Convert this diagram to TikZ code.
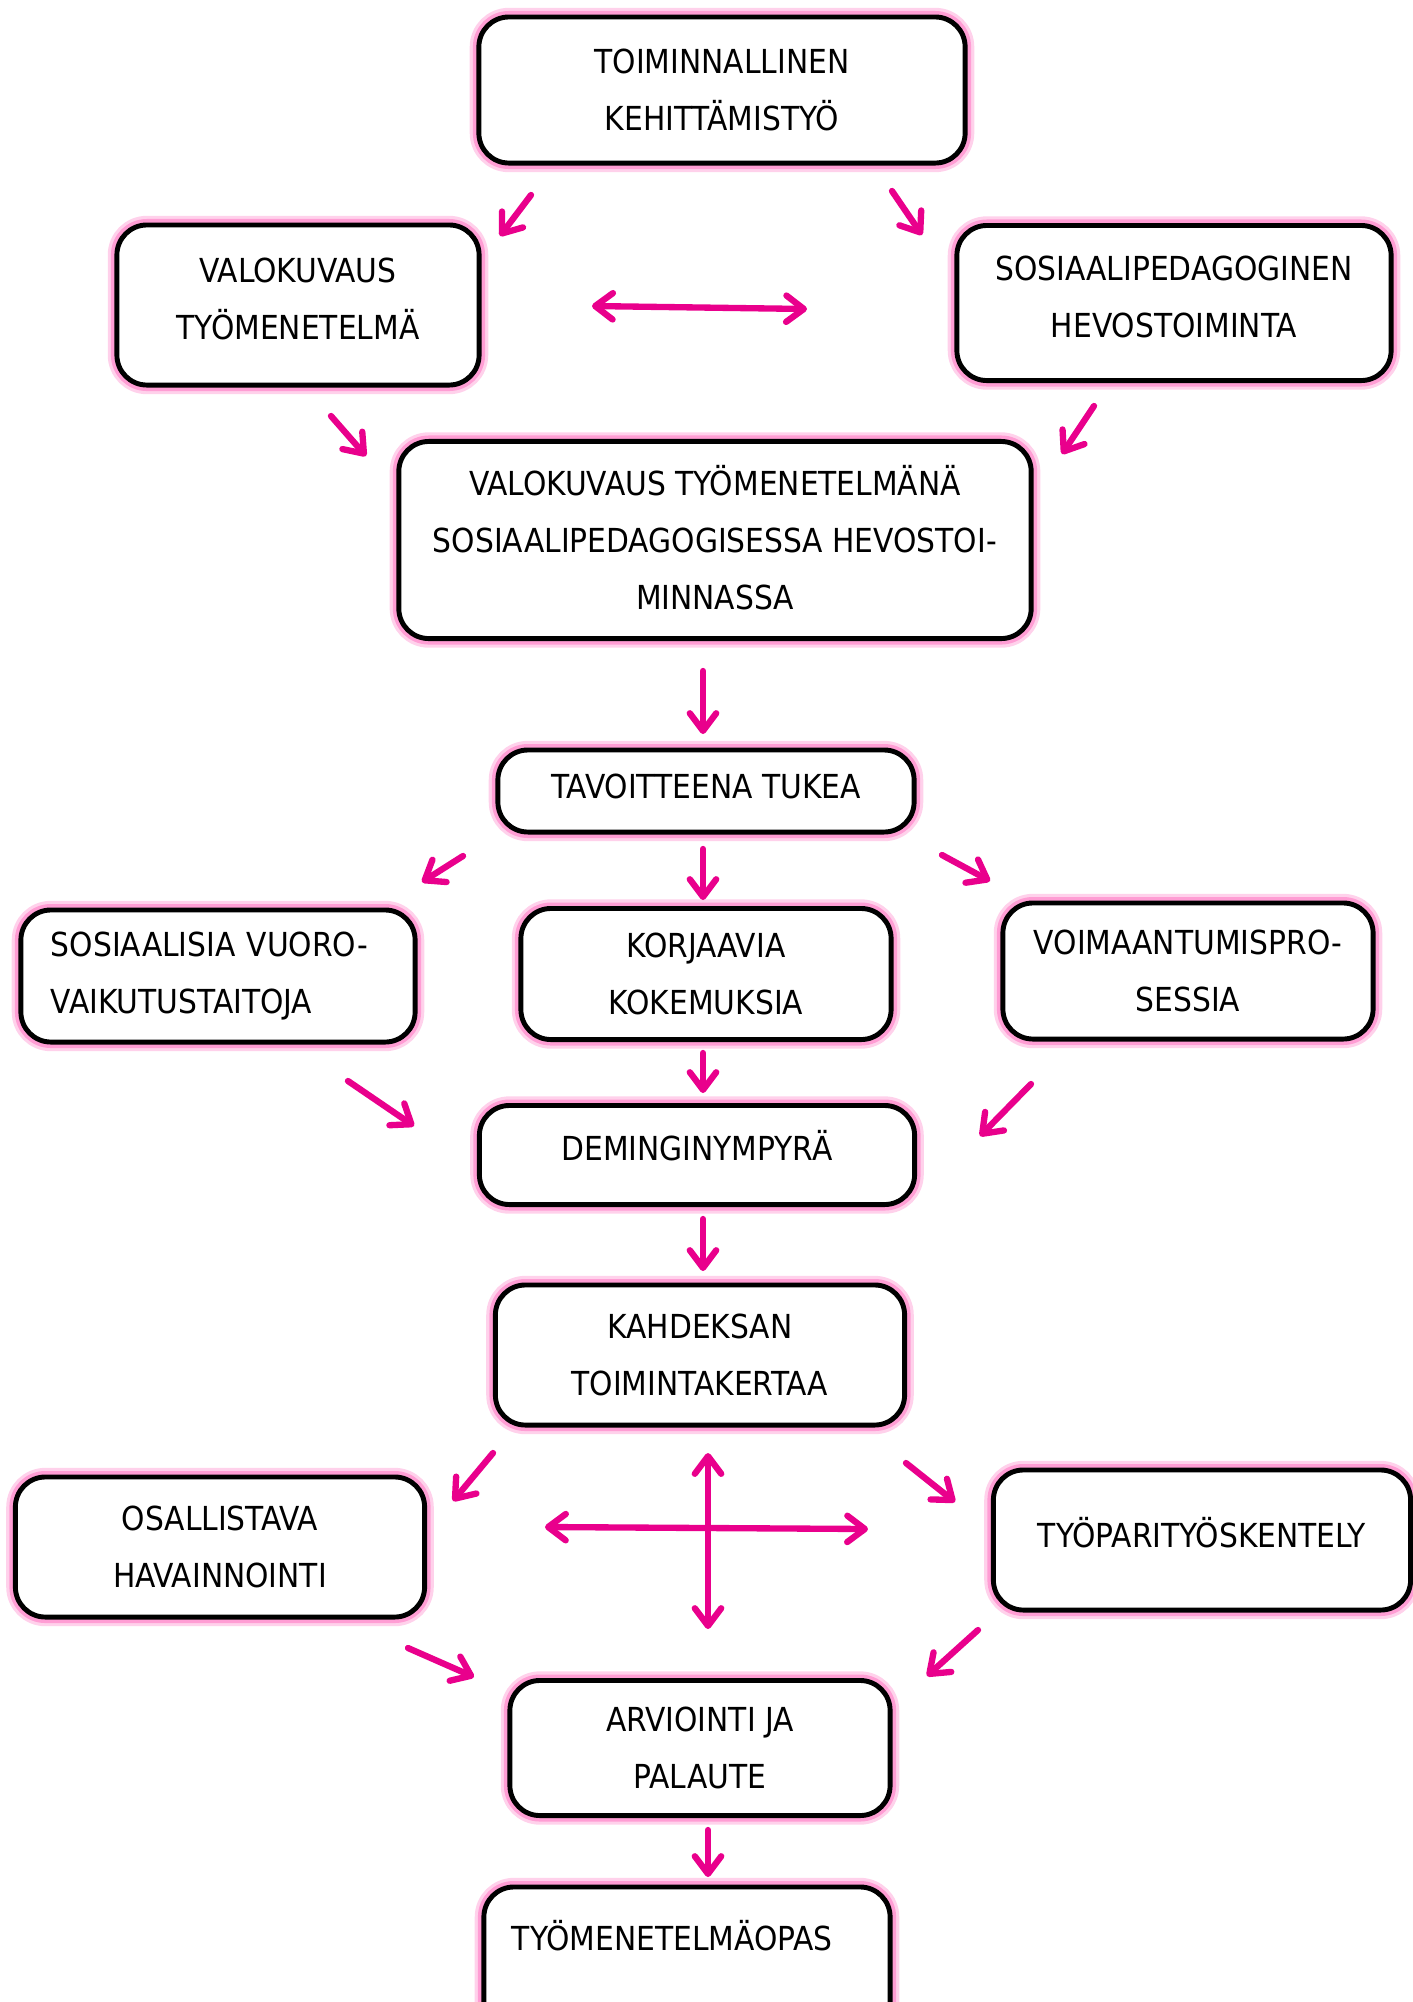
\documentclass[tikz,border=0pt]{standalone}
\usepackage{fontspec}
\setmainfont{DejaVu Sans Condensed}
\usetikzlibrary{arrows.meta}
\definecolor{arrowpink}{RGB}{233,0,140}
\definecolor{glowpink}{RGB}{255,140,205}

\begin{document}
\begin{tikzpicture}
	[x=0.01cm,y=-0.01cm,
	box/.style={draw,line width=1.4pt,rounded corners=0.3cm,fill=white,inner sep=0pt,align=center,
		font=\fontsize{9.4}{16.2}\selectfont,
		preaction={draw=glowpink!40,line width=5.2pt},
		preaction={draw=glowpink!85,line width=3.4pt}},
	arr/.style={arrowpink,line width=1.8pt,line cap=round,-{Straight Barb[length=5pt,width=7.5pt,round]}},
	darr/.style={arr,{Straight Barb[length=5pt,width=7.5pt,round]}-{Straight Barb[length=5pt,width=7.5pt,round]}}]
	\useasboundingbox (0,0) rectangle (1413,2002);
	\node (top) [box,minimum width=4.86cm,minimum height=1.46cm] at (722,90) {TOIMINNALLINEN\\KEHITTÄMISTYÖ};
	\node (valo) [box,minimum width=3.62cm,minimum height=1.6cm,text depth=0.12cm] at (298,305) {VALOKUVAUS\\TYÖMENETELMÄ};
	\node (hevo) [box,minimum width=4.34cm,minimum height=1.55cm,text depth=0.12cm] at (1174,303) {SOSIAALIPEDAGOGINEN\\HEVOSTOIMINTA};
	\node (main) [box,minimum width=6.32cm,minimum height=1.97cm,text depth=0.05cm] at (715,540) {VALOKUVAUS TYÖMENETELMÄNÄ\\SOSIAALIPEDAGOGISESSA HEVOSTOI-\\MINNASSA};
	\node (tavo) [box,minimum width=4.16cm,minimum height=0.82cm,text depth=0.1cm] at (706,791) {TAVOITTEENA TUKEA};
	\node (vuoro) [box,minimum width=3.94cm,minimum height=1.32cm,text width=3.34cm,align=left] at (218,976) {SOSIAALISIA VUORO-\\VAIKUTUSTAITOJA};
	\node (korj) [box,minimum width=3.7cm,minimum height=1.31cm] at (706,974) {KORJAAVIA\\KOKEMUKSIA};
	\node (voim) [box,minimum width=3.7cm,minimum height=1.36cm] at (1188,971) {VOIMAANTUMISPRO-\\SESSIA};
	\node (demi) [box,minimum width=4.35cm,minimum height=0.99cm,text depth=0.2cm] at (697,1155) {DEMINGINYMPYRÄ};
	\node (kahd) [box,minimum width=4.09cm,minimum height=1.4cm] at (700,1355) {KAHDEKSAN\\TOIMINTAKERTAA};
	\node (osal) [box,minimum width=4.09cm,minimum height=1.4cm] at (220,1547) {OSALLISTAVA\\HAVAINNOINTI};
	\node (tyop) [box,minimum width=4.17cm,minimum height=1.4cm,text depth=0.15cm] at (1202,1540) {TYÖPARITYÖSKENTELY};
	\node (arvi) [box,minimum width=3.8cm,minimum height=1.35cm] at (700,1748) {ARVIOINTI JA\\PALAUTE};
	\node (opas) [box,minimum width=4.06cm,minimum height=1.54cm,text width=3.5cm,align=left] at (687,1964) {TYÖMENETELMÄOPAS\\\mbox{}};
	\coordinate (a1) at (531,195); \coordinate (a2) at (500,236);
	\coordinate (b1) at (892,191); \coordinate (b2) at (922,235);
	\coordinate (c1) at (592,306); \coordinate (c2) at (807,309);
	\coordinate (d1) at (331,416); \coordinate (d2) at (366,456);
	\coordinate (e1) at (1094,406); \coordinate (e2) at (1062,454);
	\coordinate (f1) at (703,671); \coordinate (f2) at (703,734);
	\coordinate (g1) at (463,856); \coordinate (g2) at (422,882);
	\coordinate (h1) at (703,849); \coordinate (h2) at (703,900);
	\coordinate (i1) at (942,855); \coordinate (i2) at (990,881);
	\coordinate (j1) at (348,1081); \coordinate (j2) at (414,1126);
	\coordinate (k1) at (703,1053); \coordinate (k2) at (703,1093);
	\coordinate (l1) at (1031,1084); \coordinate (l2) at (980,1136);
	\coordinate (m1) at (703,1219); \coordinate (m2) at (703,1271);
	\coordinate (n1) at (493,1453); \coordinate (n2) at (453,1501);
	\coordinate (o1) at (906,1463); \coordinate (o2) at (955,1502);
	\coordinate (p1) at (708,1453); \coordinate (p2) at (708,1629);
	\coordinate (p3) at (545,1527); \coordinate (p4) at (868,1529);
	\coordinate (q1) at (408,1648); \coordinate (q2) at (474,1677);
	\coordinate (r1) at (978,1630); \coordinate (r2) at (927,1676);
	\coordinate (s1) at (708,1830); \coordinate (s2) at (708,1877);
	\draw [arr] (a1) -- (a2);
	\draw [arr] (b1) -- (b2);
	\draw [darr] (c1) -- (c2);
	\draw [arr] (d1) -- (d2);
	\draw [arr] (e1) -- (e2);
	\draw [arr] (f1) -- (f2);
	\draw [arr] (g1) -- (g2);
	\draw [arr] (h1) -- (h2);
	\draw [arr] (i1) -- (i2);
	\draw [arr] (j1) -- (j2);
	\draw [arr] (k1) -- (k2);
	\draw [arr] (l1) -- (l2);
	\draw [arr] (m1) -- (m2);
	\draw [arr] (n1) -- (n2);
	\draw [arr] (o1) -- (o2);
	\draw [darr] (p1) -- (p2);
	\draw [darr] (p3) -- (p4);
	\draw [arr] (q1) -- (q2);
	\draw [arr] (r1) -- (r2);
	\draw [arr] (s1) -- (s2);
\end{tikzpicture}
\end{document}
